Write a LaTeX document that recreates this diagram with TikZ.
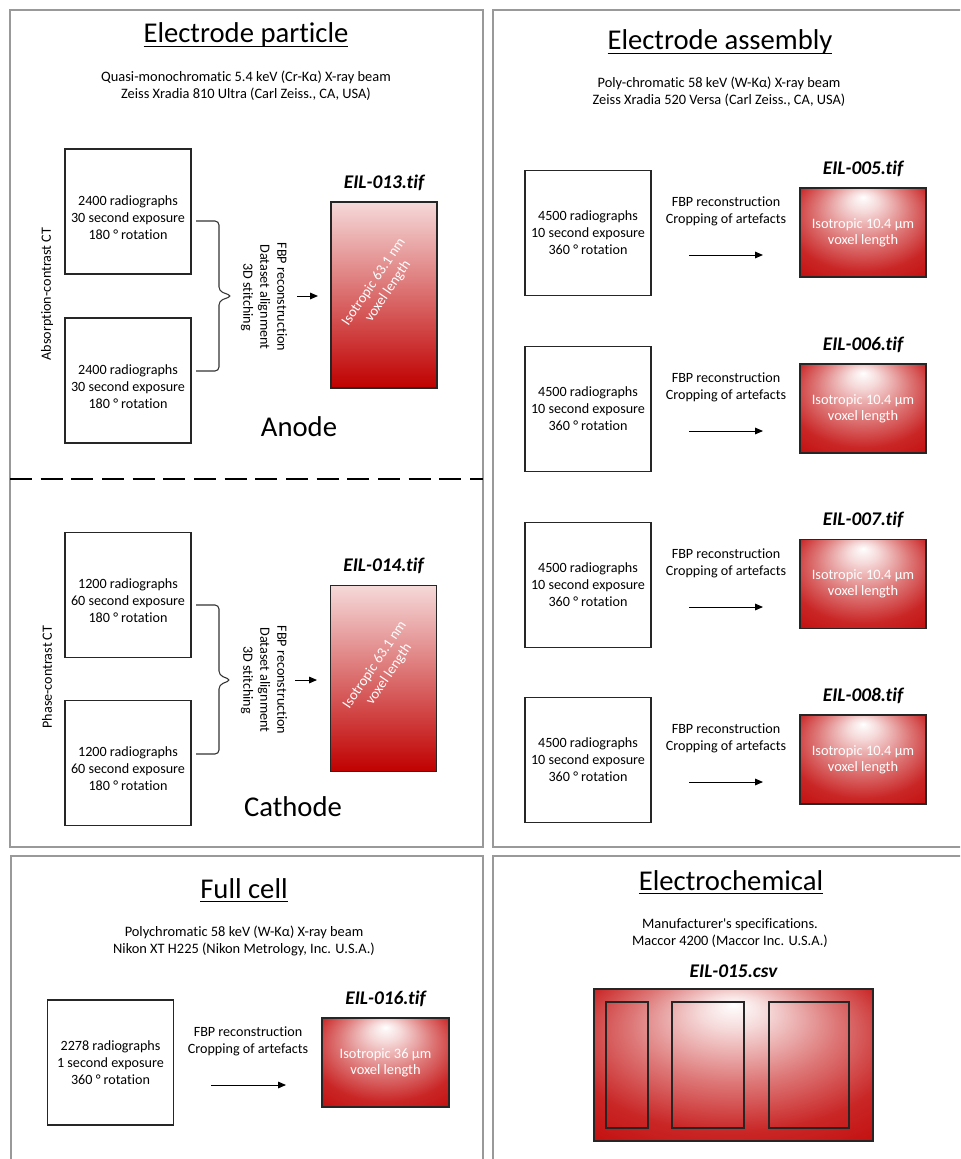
\documentclass[tikz,border=0pt]{standalone}
\usepackage{fontspec}
\setmainfont{Carlito}[Ligatures={NoCommon}]
\usepackage{tikz}
\usetikzlibrary{shapes.geometric, arrows.meta, positioning, shadings}
\definecolor{myred}{RGB}{192,0,0}
\pgfdeclareradialshading{glowtop}{\pgfpoint{0bp}{20bp}}{color(0bp)=(white); color(6bp)=(white!85!myred); color(18bp)=(myred!52); color(30bp)=(myred!85); color(45bp)=(myred); color(50bp)=(myred)}
\newcommand{\ultitle}[1]{\setbox0\hbox{#1}\rlap{\rule[-3.2pt]{\wd0}{1pt}}\box0}
\newcommand{\padtop}{\rule{0pt}{16.5pt}}
\tikzset{
  panel/.style={draw=black!40, line width=1.2pt},
  divider/.style={line width=2.2pt, dash pattern=on 16.5pt off 6.5pt},
  paneltitle/.style={anchor=base, inner sep=0pt, font=\fontsize{21.5}{26}\selectfont},
  bigword/.style={anchor=base, inner sep=0pt, font=\fontsize{21.5}{26}\selectfont},
  subtitle/.style={align=center, inner sep=0pt, font=\fontsize{10.8}{12.75}\selectfont},
  radbox/.style={
    rectangle,
    draw=black!85, line width=1.1pt,
    minimum width=94.5pt, minimum height=94pt,
    align=center, inner sep=0pt,
    font=\fontsize{10.6}{12.75}\selectfont
    },
  steptext/.style={align=center, inner sep=0pt, font=\fontsize{10.6}{12.75}\selectfont},
  sidelabel/.style={inner sep=0pt, font=\fontsize{10.6}{12.75}\selectfont},
  tallvox/.style={
    rectangle,
    draw=black!85, line width=1.1pt,
    minimum width=79.5pt, minimum height=139.5pt,
    top color=myred!15, bottom color=myred
    },
  voxbox/.style={
    rectangle,
    draw=black!85, line width=1.1pt,
    minimum width=94.5pt, minimum height=66.75pt,
    shading=glowtop,
    align=center, text=white,
    font=\fontsize{10.8}{12}\selectfont
    },
  voxtext/.style={align=center, inner sep=0pt, text=white, font=\fontsize{10.8}{12.75}\selectfont},
  filelabel/.style={inner sep=0pt, font=\fontsize{14.5}{17}\selectfont\bfseries\itshape},
  curly/.style={draw=black!80, line width=0.8pt, rounded corners=3pt},
  cellpart/.style={draw=black!85, line width=1pt},
  arrow/.style={line width=0.75pt, ->, >={Triangle[length=6pt, width=5pt]}},
}

\begin{document}
\begin{tikzpicture}[x=0.75pt, y=-0.75pt]
\path[use as bounding box, fill=white] (0,0) rectangle (960,1159);
\clip (0,0) rectangle (960,1159);

% frames
\draw[panel] (10,10) rectangle (483,847);
\draw[panel] (493,10) rectangle (966,847);
\draw[panel] (11,856) rectangle (483,1166);
\draw[panel] (493,856) rectangle (966,1166);
\draw[divider] (10,479) -- (483,479);

%% Electrode particle
\node (titleEP) [paneltitle] at (246,43) {\ultitle{Electrode particle}};
\node (srcEP) [subtitle] at (246,86) {Quasi-monochromatic 5.4 keV (Cr-Kα) X-ray beam\\Zeiss Xradia 810 Ultra (Carl Zeiss., CA, USA)};

% anode
\node (absct) [sidelabel, rotate=90] at (47,294) {Absorption-contrast CT};
\node (scanA1) [radbox] at (128,211.5) {\padtop 2400 radiographs\\30 second exposure\\180 ° rotation};
\node (scanA2) [radbox] at (128,380.5) {\padtop 2400 radiographs\\30 second exposure\\180 ° rotation};
\node (procA) [steptext, rotate=-90] at (264,297) {FBP reconstruction\\Dataset alignment\\3D stitching};
\node (vol13) [tallvox] at (384,295) {};
\node (file13) [filelabel, above=8pt of vol13] {EIL-013.tif};
\node (vtxt13) [voxtext, rotate=56] at (381,287) {Isotropic 63.1 nm\\voxel length};
\node (anode) [bigword] at (299,436) {Anode};
\draw[curly] (196,221) -- (219,221) -- (219,291) -- (232,296) -- (219,301) -- (219,371) -- (196,371);
\coordinate (arA0) at (297,296);
\coordinate (arA1) at (318,296);
\draw[arrow] (arA0) -- (arA1);

% cathode
\node (phct) [sidelabel, rotate=90] at (47,677) {Phase-contrast CT};
\node (scanC1) [radbox] at (128,595) {\padtop 1200 radiographs\\60 second exposure\\180 ° rotation};
\node (scanC2) [radbox] at (128,763) {\padtop 1200 radiographs\\60 second exposure\\180 ° rotation};
\node (procC) [steptext, rotate=-90] at (264,680) {FBP reconstruction\\Dataset alignment\\3D stitching};
\node (vol14) [tallvox] at (383.5,678.5) {};
\node (file14) [filelabel, above=8pt of vol14] {EIL-014.tif};
\node (vtxt14) [voxtext, rotate=56] at (382,670) {Isotropic 63.1 nm\\voxel length};
\node (cathode) [bigword] at (293,816) {Cathode};
\draw[curly] (196,605) -- (219,605) -- (219,675) -- (231,680) -- (219,685) -- (219,754) -- (196,754);
\coordinate (arC0) at (295,680);
\coordinate (arC1) at (317,680);
\draw[arrow] (arC0) -- (arC1);

%% Electrode assembly
\node (titleEA) [paneltitle] at (720,50) {\ultitle{Electrode assembly}};
\node (srcEA) [subtitle] at (719,92) {Poly-chromatic 58 keV (W-Kα) X-ray beam\\Zeiss Xradia 520 Versa (Carl Zeiss., CA, USA)};

\node (scan5) [radbox] at (588,233) {4500 radiographs\\10 second exposure\\360 ° rotation};
\node (proc5) [steptext] at (726,211.5) {FBP reconstruction\\Cropping of artefacts};
\node (vol5) [voxbox] at (863,232.5) {Isotropic 10.4 µm\\voxel length};
\node (file5) [filelabel, above=8pt of vol5] {EIL-005.tif};
\coordinate (ar5a) at (689,255);
\coordinate (ar5b) at (763,255);
\draw[arrow] (ar5a) -- (ar5b);

\node (scan6) [radbox] at (588,409) {4500 radiographs\\10 second exposure\\360 ° rotation};
\node (proc6) [steptext] at (726,387.5) {FBP reconstruction\\Cropping of artefacts};
\node (vol6) [voxbox] at (863,408.5) {Isotropic 10.4 µm\\voxel length};
\node (file6) [filelabel, above=8pt of vol6] {EIL-006.tif};
\coordinate (ar6a) at (689,431);
\coordinate (ar6b) at (763,431);
\draw[arrow] (ar6a) -- (ar6b);

\node (scan7) [radbox] at (588,585) {4500 radiographs\\10 second exposure\\360 ° rotation};
\node (proc7) [steptext] at (726,563.5) {FBP reconstruction\\Cropping of artefacts};
\node (vol7) [voxbox] at (863,584) {Isotropic 10.4 µm\\voxel length};
\node (file7) [filelabel, above=8pt of vol7] {EIL-007.tif};
\coordinate (ar7a) at (689,607);
\coordinate (ar7b) at (763,607);
\draw[arrow] (ar7a) -- (ar7b);

\node (scan8) [radbox] at (588,760) {4500 radiographs\\10 second exposure\\360 ° rotation};
\node (proc8) [steptext] at (726,738.5) {FBP reconstruction\\Cropping of artefacts};
\node (vol8) [voxbox] at (863,759.5) {Isotropic 10.4 µm\\voxel length};
\node (file8) [filelabel, above=8pt of vol8] {EIL-008.tif};
\coordinate (ar8a) at (689,782);
\coordinate (ar8b) at (763,782);
\draw[arrow] (ar8a) -- (ar8b);

%% Full cell
\node (titleFC) [paneltitle] at (244,898) {\ultitle{Full cell}};
\node (srcFC) [subtitle] at (244,941) {Polychromatic 58 keV (W-Kα) X-ray beam\\Nikon XT H225 (Nikon Metrology, Inc. U.S.A.)};
\node (scan16) [radbox] at (110.5,1062.5) {2278 radiographs\\1 second exposure\\360 ° rotation};
\node (proc16) [steptext] at (248,1041.5) {FBP reconstruction\\Cropping of artefacts};
\node (vol16) [voxbox, minimum width=95.25pt] at (385.5,1062.5) {Isotropic 36 µm\\voxel length};
\node (file16) [filelabel, above=8pt of vol16] {EIL-016.tif};
\coordinate (ar16a) at (211,1085);
\coordinate (ar16b) at (286,1085);
\draw[arrow] (ar16a) -- (ar16b);

%% Electrochemical
\node (titleEC) [paneltitle] at (731,890) {\ultitle{Electrochemical}};
\node (srcEC) [subtitle] at (730,933) {Manufacturer\textquotesingle s specifications.\\Maccor 4200 (Maccor Inc. U.S.A.)};
\node (cycler) [voxbox, minimum width=209.25pt, minimum height=114pt] at (733.5,1065) {};
\node (file15) [filelabel, above=8pt of cycler] {EIL-015.csv};
\draw[cellpart] (606,1002) rectangle (648,1128);
\draw[cellpart] (672,1002) rectangle (744,1128);
\draw[cellpart] (769,1002) rectangle (849,1128);

\end{tikzpicture}
\end{document}
